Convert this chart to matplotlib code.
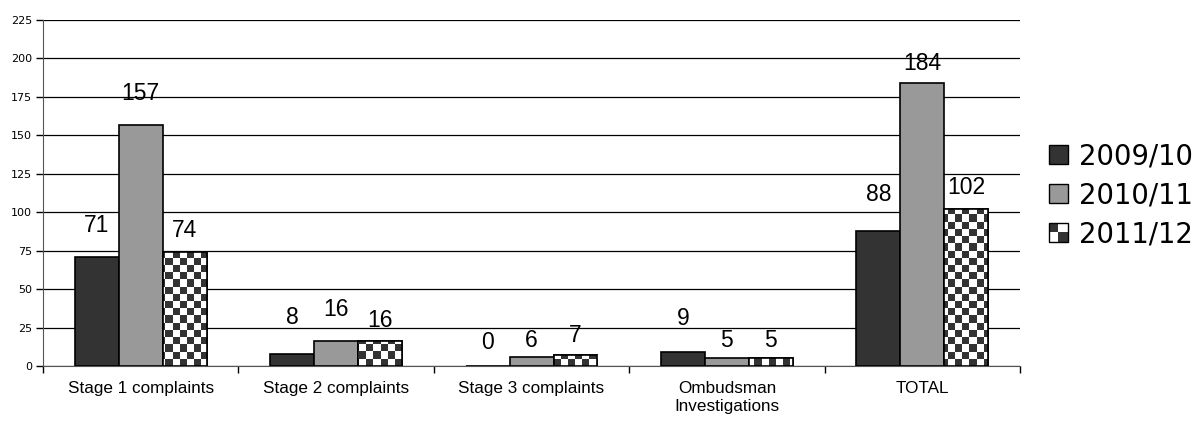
import numpy as np
import matplotlib.pyplot as plt
from matplotlib.patches import Rectangle
from matplotlib.colors import ListedColormap
from matplotlib.legend_handler import HandlerBase

categories = ["Stage 1 complaints", "Stage 2 complaints", "Stage 3 complaints",
              "Ombudsman\nInvestigations", "TOTAL"]
years = ["2009/10", "2010/11", "2011/12"]
counts_0910 = [71, 8, 0, 9, 88]
counts_1011 = [157, 16, 6, 5, 184]
counts_1112 = [74, 16, 7, 5, 102]

DARK = "#333333"
GREY = "#999999"

# how far each value label sits above its bar (pixels, to text centre)
label_lift = [[31, 36, 23, 34, 36],
              [31, 32, 16, 18, 20],
              [22, 21, 20, 18, 22]]

plt.rcParams['font.family'] = ['Liberation Sans', 'DejaVu Sans']


class CheckerHandler(HandlerBase):
    # small 2x2 checker square for the legend
    def create_artists(self, legend, orig_handle, xdescent, ydescent,
                       width, height, fontsize, trans):
        s = min(width, height)
        x0 = xdescent + (width - s) / 2
        y0 = -ydescent + (height - s) / 2
        h = s / 2
        return [Rectangle((x0, y0), s, s, facecolor="white", edgecolor="none", transform=trans),
                Rectangle((x0, y0 + h), h, h, facecolor=DARK, edgecolor="none", transform=trans),
                Rectangle((x0 + h, y0), h, h, facecolor=DARK, edgecolor="none", transform=trans),
                Rectangle((x0, y0), s, s, facecolor="none", edgecolor="black", lw=1, transform=trans)]


class SquareHandler(HandlerBase):
    def create_artists(self, legend, orig_handle, xdescent, ydescent,
                       width, height, fontsize, trans):
        s = min(width, height)
        x0 = xdescent + (width - s) / 2
        y0 = -ydescent + (height - s) / 2
        return [Rectangle((x0, y0), s, s, facecolor=orig_handle.get_facecolor(),
                          edgecolor="black", lw=1, transform=trans)]


fig = plt.figure(figsize=(12.02, 4.23), dpi=100)
ax = fig.add_axes([0.0358, 0.1348, 0.8128, 0.8179])

x = np.arange(len(categories))
w = 0.225
series = [counts_0910, counts_1011, counts_1112]

bars_all = []
for i, vals in enumerate(series):
    fc = [DARK, GREY, "white"][i]
    bars = ax.bar(x + (i - 1) * w, vals, w, color=fc, edgecolor="black",
                  linewidth=1.2, zorder=3)
    bars_all.append(bars)
    for j, (b, v) in enumerate(zip(bars, vals)):
        ax.annotate(str(v), (b.get_x() + b.get_width() / 2, v),
                    xytext=(0, label_lift[i][j]), textcoords="offset pixels",
                    ha="center", va="center", fontsize=16.5, zorder=5)

xlim = (-0.5, len(categories) - 0.5)
ylim = (0, 225)
ax.set_xlim(*xlim)
ax.set_ylim(*ylim)

# checkerboard fill for the 2011/12 bars, ~7 px cells
cell = 7.2
bb = ax.get_position()
nx = int(round(bb.width * fig.bbox.width / cell))
ny = int(round(bb.height * fig.bbox.height / cell))
checker = (np.add.outer(np.arange(ny), np.arange(nx)) % 2).astype(float)
for b in bars_all[2]:
    im = ax.imshow(checker, cmap=ListedColormap([DARK, "white"]),
                   extent=[xlim[0], xlim[1], ylim[0], ylim[1]],
                   interpolation="nearest", aspect="auto", zorder=3.5)
    im.set_clip_path(b)
    ax.add_patch(Rectangle((b.get_x(), 0), b.get_width(), b.get_height(),
                           facecolor="none", edgecolor="black", linewidth=1.2, zorder=4))
ax.set_xlim(*xlim)
ax.set_ylim(*ylim)

ax.set_yticks(np.arange(0, 226, 25))
ax.yaxis.grid(True, color="black", linewidth=0.9, zorder=0)
ax.set_axisbelow(True)
ax.tick_params(axis="y", labelsize=8, length=5, width=1, direction="out", pad=3)
for t in ax.get_yticklabels():
    t.set_family("DejaVu Sans")

ax.set_xticks(x)
ax.set_xticklabels(categories, fontsize=12.3)
ax.tick_params(axis="x", length=0, pad=11)
ax.set_xticks(np.arange(-0.5, len(categories) + 0.5, 1), minor=True)
ax.tick_params(axis="x", which="minor", length=5, width=1, direction="out")

for s in ["top", "right"]:
    ax.spines[s].set_visible(False)
ax.spines["left"].set_color("#555555")
ax.spines["bottom"].set_color("#555555")

handles = [Rectangle((0, 0), 1, 1, facecolor=DARK),
           Rectangle((0, 0), 1, 1, facecolor=GREY),
           Rectangle((0, 0), 1, 1, facecolor="white")]
hmap = {handles[0]: SquareHandler(), handles[1]: SquareHandler(), handles[2]: CheckerHandler()}
fig.legend(handles, years, handler_map=hmap, loc="center left",
           bbox_to_anchor=(0.8727, 0.539), frameon=False,
           prop={"family": "DejaVu Sans", "size": 19.8},
           borderpad=0, borderaxespad=0,
           handlelength=0.69, handleheight=0.69, handletextpad=0.4, labelspacing=0.4)

fig.savefig("out.png", dpi=100)
